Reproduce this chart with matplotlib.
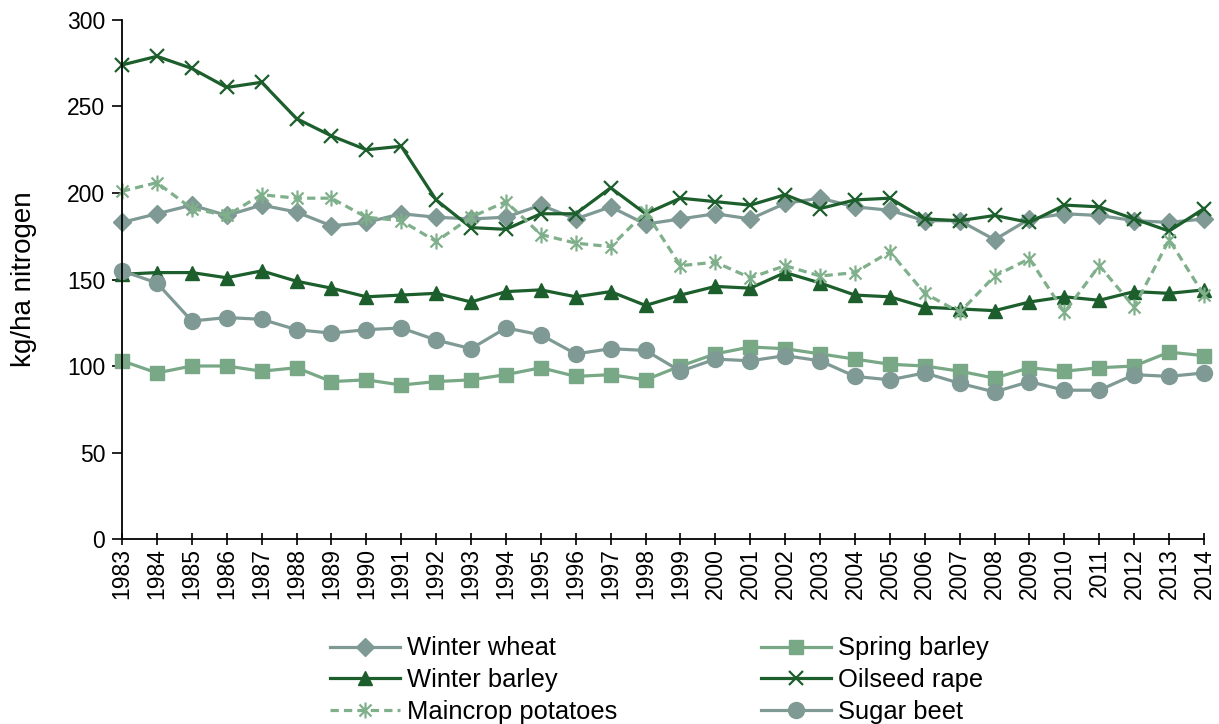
import matplotlib
matplotlib.use("Agg")
import matplotlib.pyplot as plt
from matplotlib.path import Path

plt.rcParams['font.family'] = ['Liberation Sans', 'DejaVu Sans']

years = list(range(1983, 2015))

winter_wheat = [183, 188, 193, 187, 193, 189, 181, 183, 188, 186, 185, 186,
                193, 185, 192, 182, 185, 188, 185, 194, 197, 192, 190, 184,
                184, 173, 185, 188, 187, 184, 183, 185]
spring_barley = [103, 96, 100, 100, 97, 99, 91, 92, 89, 91, 92, 95,
                 99, 94, 95, 92, 100, 107, 111, 110, 107, 104, 101, 100,
                 97, 93, 99, 97, 99, 100, 108, 106]
winter_barley = [153, 154, 154, 151, 155, 149, 145, 140, 141, 142, 137, 143,
                 144, 140, 143, 135, 141, 146, 145, 154, 148, 141, 140, 134,
                 133, 132, 137, 140, 138, 143, 142, 144]
oilseed_rape = [274, 279, 272, 261, 264, 243, 233, 225, 227, 196, 180, 179,
                188, 188, 203, 188, 197, 195, 193, 199, 191, 196, 197, 185,
                184, 187, 183, 193, 192, 185, 178, 191]
maincrop_potatoes = [201, 206, 191, 187, 199, 197, 197, 186, 184, 172, 186, 195,
                     176, 171, 169, 189, 158, 160, 151, 158, 152, 154, 166, 142,
                     131, 152, 162, 131, 158, 134, 173, 141]
sugar_beet = [155, 148, 126, 128, 127, 121, 119, 121, 122, 115, 110, 122,
              118, 107, 110, 109, 97, 104, 103, 106, 103, 94, 92, 96,
              90, 85, 91, 86, 86, 95, 94, 96]

# star marker: an x with a vertical stroke through it
star = Path([(0, -1), (0, 1), (-0.75, -0.75), (0.75, 0.75), (-0.75, 0.75), (0.75, -0.75)],
            [Path.MOVETO, Path.LINETO, Path.MOVETO, Path.LINETO, Path.MOVETO, Path.LINETO])

grey = '#7F9A95'
light = '#78A886'
dark = '#1C5E2C'
pale = '#80B08B'

fig = plt.figure(figsize=(12.19, 7.24), dpi=100)
ax = fig.add_axes([0.1001, 0.2555, 0.8876, 0.7169])

lw = 2.3
h1, = ax.plot(years, winter_wheat, color=grey, lw=lw, marker='D', ms=9,
              label='Winter wheat', clip_on=False)
h4, = ax.plot(years, spring_barley, color=light, lw=lw, marker='s', ms=10.5,
              label='Spring barley', clip_on=False)
h2, = ax.plot(years, winter_barley, color=dark, lw=lw, marker='^', ms=10.5,
              label='Winter barley', clip_on=False)
h5, = ax.plot(years, oilseed_rape, color=dark, lw=lw, marker='x', ms=10.5, mew=1.6,
              label='Oilseed rape', clip_on=False)
h3, = ax.plot(years, maincrop_potatoes, color=pale, lw=lw, ls=(0, (2.6, 1.6)),
              marker=star, ms=11.5, mew=1.6, label='Maincrop potatoes', clip_on=False)
h6, = ax.plot(years, sugar_beet, color=grey, lw=lw, marker='o', ms=11.5,
              label='Sugar beet', clip_on=False)

ax.set_xlim(1983, 2014)
ax.set_ylim(0, 300)
ax.set_yticks(range(0, 301, 50))
ax.set_xticks(years)
ax.set_xticklabels([str(y) for y in years], rotation=90)
ax.tick_params(axis='y', direction='out', length=7, width=1.2, labelsize=16.5, pad=5)
ax.tick_params(axis='x', direction='inout', length=9, width=1.2, labelsize=16.5, pad=2)
for s in ['top', 'right']:
    ax.spines[s].set_visible(False)
for s in ['left', 'bottom']:
    ax.spines[s].set_linewidth(1.3)

ax.set_ylabel('kg/ha nitrogen', fontsize=20, labelpad=22)

fig.legend(handles=[h1, h2, h3, h4, h5, h6], ncol=2, frameon=False,
           fontsize=18.4, handlelength=2.75, handletextpad=0.27,
           columnspacing=5.6, labelspacing=0.3,
           loc='upper left', bbox_to_anchor=(0.2625, 0.135), borderaxespad=0)

fig.savefig('out.png', dpi=100)
